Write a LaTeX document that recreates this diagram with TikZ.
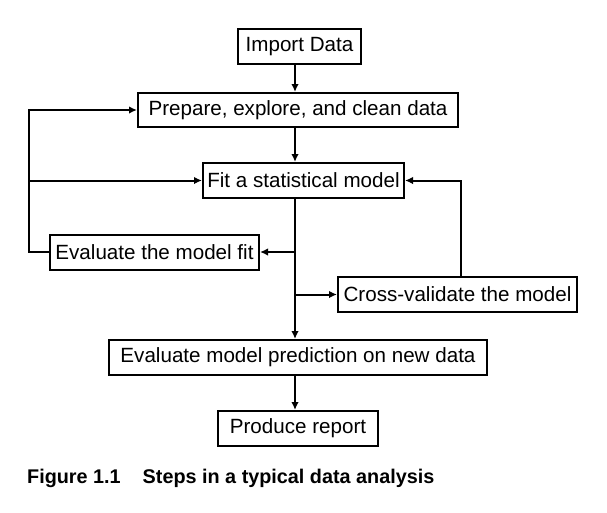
\documentclass[tikz,border=0pt]{standalone}
\usepackage{fontspec}
\setmainfont{Liberation Sans}
\usepackage{tikz}
\usetikzlibrary{arrows.meta, positioning, calc}

\begin{document}
\begin{tikzpicture}[
    x=1pt, y=-1pt,
    block/.style={rectangle, draw, line width=2pt, inner sep=0pt, minimum height=35pt,
                  font=\fontsize{20.6}{24}\selectfont},
    arrow/.style={line width=2pt, -{Latex[length=8pt,width=7.5pt]}}
]
    \useasboundingbox (0,0) rectangle (607,512);

    % Blocks
    \node[block, minimum width=123pt] (import) at (299.5,46.5) {Import Data};
    \node[block, minimum width=320pt, minimum height=34pt] (prepare) at (298,110) {Prepare, explore, and clean data};
    \node[block, minimum width=201pt] (fit) at (303.5,180.5) {Fit a statistical model};
    \node[block, minimum width=209pt] (evalfit) at (154.5,252) {Evaluate the model fit};
    \node[block, minimum width=239pt] (cross) at (457.5,294.5) {Cross-validate the model};
    \node[block, minimum width=378pt] (evalpred) at (298,357.5) {Evaluate model prediction on new data};
    \node[block, minimum width=160pt] (report) at (298,428.5) {Produce report};

    % Helper coordinates for the vertical lines
    \coordinate (spine) at (295,0);
    \coordinate (loopL) at (29,0);
    \coordinate (loopR) at (461,0);

    % Arrows
    \draw[arrow] (import.south -| spine) -- (prepare.north -| spine);
    \draw[arrow] (prepare.south -| spine) -- (fit.north -| spine);
    \draw[arrow] (fit.south -| spine) -- (evalpred.north -| spine);
    \draw[arrow] (evalfit.east -| spine) -- (evalfit.east);
    \draw[arrow] (cross.west -| spine) -- (cross.west);
    \draw[arrow] (evalpred.south -| spine) -- (report.north -| spine);

    % Feedback loops
    \draw[arrow] (evalfit.west) -- (evalfit.west -| loopL) |- (prepare.west);
    \draw[arrow] (fit.west -| loopL) -- (fit.west);
    \draw[arrow] (cross.north -| loopR) |- (fit.east);

    % Caption
    \node[anchor=base west, inner sep=0pt, font=\bfseries\fontsize{19.8}{24}\selectfont] (caption) at (27,483)
        {Figure 1.1\hspace{22pt}Steps in a typical data analysis};
\end{tikzpicture}
\end{document}
